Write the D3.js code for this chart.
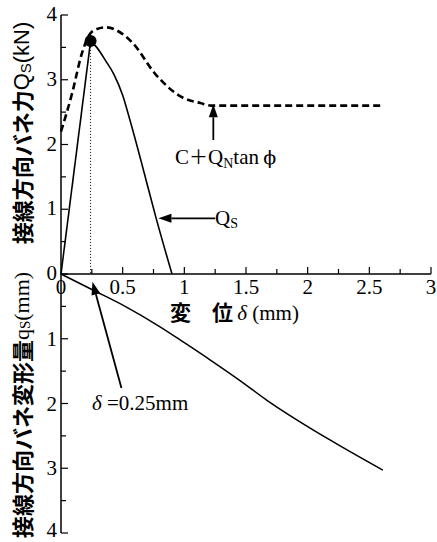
<!DOCTYPE html>
<html>
<head>
<meta charset="utf-8">
<script src="https://cdn.jsdelivr.net/npm/d3@7/dist/d3.min.js"></script>
<style>
  html, body { margin: 0; padding: 0; background: #fff; }
  svg { display: block; }
</style>
</head>
<body>
<svg id="chart" width="437" height="542"></svg>
<script>
// ---------------- data ----------------
const xTickLabels = ["0", "0.5", "1", "1.5", "2", "2.5", "3"];
const xTickValues = [0, 0.5, 1, 1.5, 2, 2.5, 3];
const yUpperTicks = [0, 1, 2, 3, 4];          // Q_S (kN)
const yLowerTicks = [1, 2, 3, 4];             // q_S (mm), plotted downward

// solid Q_S curve: linear rise to the peak, then falling curve
const qsRise = [[0, 0], [0.24, 3.6]];
const qsFall = [[0.24, 3.6], [0.29, 3.5], [0.36, 3.3], [0.43, 3.08], [0.50, 2.76],
                [0.56, 2.37], [0.65, 1.74], [0.77, 0.87], [0.90, 0]];
const peak = [0.24, 3.6];

// dashed C + Q_N tan(phi) curve
const cqCurve = [[0, 2.2], [0.09, 2.79], [0.17, 3.41], [0.25, 3.74], [0.36, 3.81],
                 [0.58, 3.57], [0.76, 3.1], [0.98, 2.73], [1.13, 2.64], [1.22, 2.6],
                 [2.6, 2.6]];

// lower curve: tangential spring deformation q_S (mm)
const qDef = [[0, 0], [0.25, 0.24], [0.52, 0.5], [0.79, 0.8], [1.0, 1.06],
              [1.22, 1.34], [1.44, 1.63], [1.67, 1.95], [2.16, 2.54], [2.61, 3.03]];

// annotation anchors (data units: [delta, value])
const arrowCQ   = { from: [1.235, 2.07], to: [1.235, 2.62] };
const arrowQs   = { from: [1.25, 0.86],  to: [0.79, 0.86] };
const arrowDel  = { from: [0.49, -1.76], to: [0.255, -0.12] };

// ---------------- scales ----------------
const svg = d3.select("#chart");
const x = d3.scaleLinear().domain([0, 3]).range([61, 431]);
// upper half positive Q (kN), lower half q (mm) drawn downward as negative
const y = d3.scaleLinear().domain([4, -4]).range([15, 533]);

const serif = "'Liberation Serif', 'Times New Roman', serif";
const cjk = "'Noto Sans CJK JP', sans-serif";

// ---------------- axes ----------------
const ax = svg.append("g").attr("stroke", "#000").attr("stroke-width", 1.5).attr("fill", "none");
ax.append("line").attr("x1", x(0)).attr("x2", x(0)).attr("y1", y(4)).attr("y2", y(-4));
ax.append("line").attr("x1", x(0)).attr("x2", x(3)).attr("y1", y(0)).attr("y2", y(0));

// y ticks (pointing right), every 0.5
const yTickVals = d3.range(-4, 4.01, 0.5);
ax.selectAll(".yt").data(yTickVals).join("line")
  .attr("x1", x(0)).attr("x2", d => x(0) + (Number.isInteger(d) ? 7 : 5))
  .attr("y1", d => y(d)).attr("y2", d => y(d))
  .attr("stroke-width", 1.2);

// x ticks (pointing up), every 0.25
const xTickVals = d3.range(0.25, 3.01, 0.25);
ax.selectAll(".xt").data(xTickVals).join("line")
  .attr("x1", d => x(d)).attr("x2", d => x(d))
  .attr("y1", y(0)).attr("y2", d => y(0) - (Math.abs(d * 2 - Math.round(d * 2)) < 1e-6 ? 7 : 5))
  .attr("stroke-width", 1.2);

// tick labels
svg.append("g").selectAll("text").data(xTickValues).join("text")
  .attr("x", d => x(d)).attr("y", y(0) + 20)
  .attr("text-anchor", "middle")
  .attr("font-family", serif).attr("font-size", 21)
  .text((d, i) => xTickLabels[i]);

svg.append("g").selectAll("text").data(yUpperTicks).join("text")
  .attr("x", x(0) - 4).attr("y", d => y(d) - 1)
  .attr("text-anchor", "end").attr("dominant-baseline", "central")
  .attr("font-family", serif).attr("font-size", 21)
  .text(d => d);

svg.append("g").selectAll("text").data(yLowerTicks).join("text")
  .attr("x", x(0) - 4).attr("y", d => Math.min(y(-d), 530))
  .attr("text-anchor", "end").attr("dominant-baseline", "central")
  .attr("font-family", serif).attr("font-size", 21)
  .text(d => d);

// ---------------- curves ----------------
const line = d3.line().x(d => x(d[0])).y(d => y(d[1]));
const smooth = d3.line().x(d => x(d[0])).y(d => y(d[1])).curve(d3.curveMonotoneX);

// dotted guide at the peak
svg.append("line")
  .attr("x1", x(peak[0])).attr("x2", x(peak[0]))
  .attr("y1", y(peak[1])).attr("y2", y(0))
  .attr("stroke", "#000").attr("stroke-width", 1).attr("stroke-dasharray", "1,2");

svg.append("path").datum(qsRise).attr("d", line)
  .attr("fill", "none").attr("stroke", "#000").attr("stroke-width", 1.6);
svg.append("path").datum(qsFall).attr("d", smooth)
  .attr("fill", "none").attr("stroke", "#000").attr("stroke-width", 1.6);

svg.append("path").datum(cqCurve).attr("d", smooth)
  .attr("fill", "none").attr("stroke", "#000").attr("stroke-width", 2.6)
  .attr("stroke-dasharray", "7,4");

svg.append("path").datum(qDef.map(d => [d[0], -d[1]])).attr("d", smooth)
  .attr("fill", "none").attr("stroke", "#000").attr("stroke-width", 1.5);

svg.append("circle").attr("cx", x(peak[0])).attr("cy", y(peak[1])).attr("r", 6).attr("fill", "#000");

// ---------------- arrows ----------------
function arrow(a) {
  const x1 = x(a.from[0]), y1 = y(a.from[1]), x2 = x(a.to[0]), y2 = y(a.to[1]);
  const ang = Math.atan2(y2 - y1, x2 - x1);
  const L = 13, W = 4.5;
  const bx = x2 - L * Math.cos(ang), by = y2 - L * Math.sin(ang);
  svg.append("line").attr("x1", x1).attr("y1", y1).attr("x2", bx).attr("y2", by)
    .attr("stroke", "#000").attr("stroke-width", 1.8);
  const px = -Math.sin(ang), py = Math.cos(ang);
  svg.append("path")
    .attr("d", `M${x2},${y2}L${bx + W * px},${by + W * py}L${bx - W * px},${by - W * py}Z`)
    .attr("fill", "#000");
}
arrow(arrowCQ);
arrow(arrowQs);
arrow(arrowDel);

// ---------------- annotation text ----------------
const tCQ = svg.append("text").attr("x", 175).attr("y", 164)
  .attr("font-family", serif).attr("font-size", 21);
tCQ.append("tspan").text("C");
tCQ.append("tspan").attr("font-family", cjk).attr("font-size", 19).text("＋");
tCQ.append("tspan").text("Q");
tCQ.append("tspan").attr("font-size", 14).attr("dy", 4).text("N");
tCQ.append("tspan").attr("dy", -4).text("tan\u2009");
tCQ.append("tspan").attr("font-family", "'DejaVu Serif', serif").attr("font-size", 19).text("ϕ");

const tQs = svg.append("text").attr("x", 215).attr("y", 225)
  .attr("font-family", serif).attr("font-size", 21);
tQs.append("tspan").text("Q");
tQs.append("tspan").attr("font-size", 14).attr("dy", 3).text("S");

const tDel = svg.append("text").attr("x", 92).attr("y", 410)
  .attr("font-family", serif).attr("font-size", 21);
tDel.append("tspan").attr("font-style", "italic").text("δ");
tDel.append("tspan").text(" =0.25mm");

// x-axis title
const tX = svg.append("text").attr("x", 170).attr("y", 320).attr("font-size", 21);
tX.append("tspan").attr("font-family", cjk).attr("font-weight", "bold").text("変　位");
tX.append("tspan").attr("font-family", serif).attr("font-style", "italic").text("\u2009δ");
tX.append("tspan").attr("font-family", serif).text(" (mm)");

// y-axis titles (rotated)
const tY1 = svg.append("text").attr("transform", "translate(21,133) rotate(-90)")
  .attr("text-anchor", "middle").attr("dominant-baseline", "central").attr("font-size", 22);
tY1.append("tspan").attr("font-family", cjk).attr("font-weight", "bold").text("接線方向バネ力");
tY1.append("tspan").attr("font-family", "'Liberation Sans', sans-serif").text("Q");
tY1.append("tspan").attr("font-family", "'Liberation Sans', sans-serif").attr("font-size", 15).attr("dy", 4).text("S");
tY1.append("tspan").attr("font-family", "'Liberation Sans', sans-serif").attr("dy", -4).text("(kN)");

const tY2 = svg.append("text").attr("transform", "translate(21,405) rotate(-90)")
  .attr("text-anchor", "middle").attr("dominant-baseline", "central").attr("font-size", 22);
tY2.append("tspan").attr("font-family", cjk).attr("font-weight", "bold").text("接線方向バネ変形量");
tY2.append("tspan").attr("font-family", serif).text("q");
tY2.append("tspan").attr("font-family", serif).attr("font-size", 15).attr("dy", 4).text("S");
tY2.append("tspan").attr("font-family", serif).attr("dy", -4).text("(mm)");
</script>
</body>
</html>
